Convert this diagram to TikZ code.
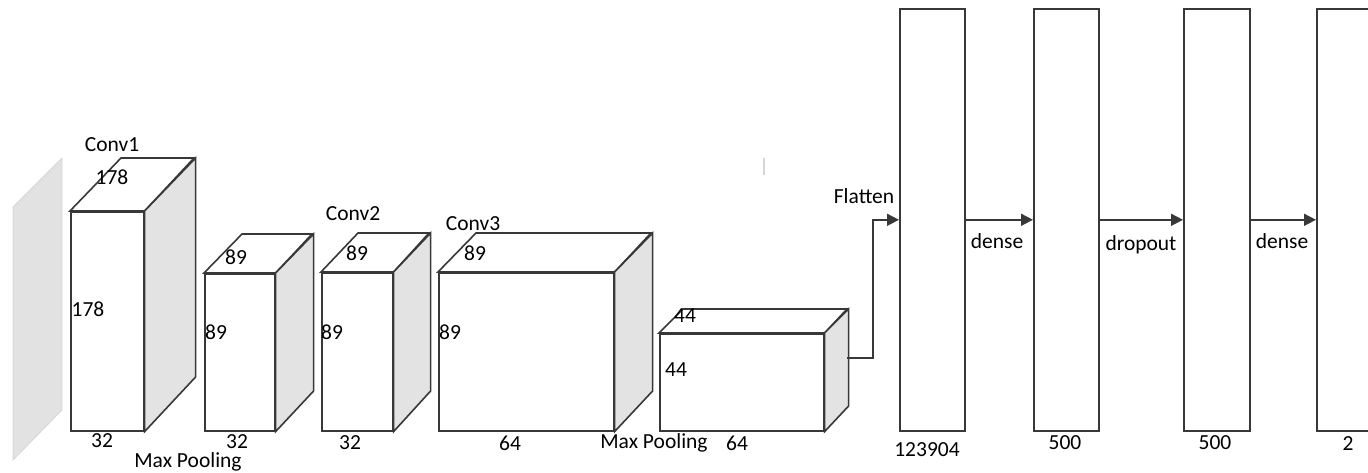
\documentclass[tikz,border=0pt]{standalone}
\usepackage{fontspec}
\setmainfont{Carlito}
\usetikzlibrary{arrows.meta}
\definecolor{ln}{HTML}{383838}
\definecolor{sidef}{HTML}{E3E3E3}
\definecolor{planef}{HTML}{E2E2E2}
\definecolor{planed}{HTML}{D6D6D6}
\newcommand\cubeblock[7]{%
  \node[front, minimum width=#4pt, minimum height=#5pt] (#1) at (#2,#3) {};
  \draw[edge, fill=white] (#1.north west) -- ++(#6,-#7) -- ++(#4,0) -- (#1.north east) -- cycle;
  \draw[edge, fill=sidef] (#1.north east) -- ++(#6,-#7) -- ++(0,#5) -- (#1.south east) -- cycle;
}
\begin{document}
\begin{tikzpicture}[x=1pt,y=-1pt,
  lbl/.style={font=\fontsize{21.5}{25}\selectfont, text=black, inner sep=0pt},
  edge/.style={draw=ln, line width=1.6pt, line join=miter},
  front/.style={edge, fill=white, rectangle, inner sep=0pt, anchor=north west},
  fc/.style={edge, fill=white, rectangle, inner sep=0pt, anchor=north west, minimum height=422pt},
  conn/.style={draw=ln, line width=1.6pt, -{Triangle[length=12pt,width=12pt]}}
]
\useasboundingbox (0,0) rectangle (1368,473);
% input plane
\filldraw[fill=planef, draw=planed, line width=0.8pt] (13,207) -- (62,158) -- (62,410) -- (13,460) -- cycle;
% stray mark
\draw[draw=planed, line width=1.5pt] (764,158) -- (764,175);
% conv / pooling blocks
\cubeblock{c1}{70}{211}{73}{219}{51}{53}
\cubeblock{p1}{204}{273}{70}{157}{38}{39}
\cubeblock{c2}{321}{272}{71}{158}{37}{39}
\cubeblock{c3}{438}{272}{175}{158}{38}{39}
\cubeblock{p2}{659}{333}{164}{97}{24}{24}
% fully connected layers
\node[fc, minimum width=65pt] (d1) at (899,8) {};
\node[fc, minimum width=65pt] (d2) at (1033,8) {};
\node[fc, minimum width=66pt] (d3) at (1183,8) {};
\node[fc, minimum width=65pt] (d4) at (1316,8) {};
% connectors
\coordinate (fs) at (847,358);
\draw[conn] (fs) -- ++(26,0) |- (d1.west);
\draw[conn] (d1.east) -- (d2.west);
\draw[conn] (d2.east) -- (d3.west);
\draw[conn] (d3.east) -- (d4.west);
% labels
\node[lbl] (l1) at (112,145) {Conv1};
\node[lbl] (l2) at (112,177) {178};
\node[lbl] (l3) at (88,309) {178};
\node[lbl] (l4) at (102,441) {32};
\node[lbl] (l5) at (236,257) {89};
\node[lbl] (l6) at (216,332) {89};
\node[lbl] (l7) at (237,442) {32};
\node[lbl] (l8) at (188,462) {Max Pooling};
\node[lbl] (l9) at (353,214) {Conv2};
\node[lbl] (l10) at (357,253) {89};
\node[lbl] (l11) at (332,332) {89};
\node[lbl] (l12) at (350,443) {32};
\node[lbl] (l13) at (473,224) {Conv3};
\node[lbl] (l14) at (475,253) {89};
\node[lbl] (l15) at (450,332) {89};
\node[lbl] (l16) at (510,443) {64};
\node[lbl] (l17) at (685,316) {44};
\node[lbl] (l18) at (676,370) {44};
\node[lbl] (l19) at (654,443) {Max Pooling};
\node[lbl] (l20) at (737,443) {64};
\node[lbl] (l21) at (864,196) {Flatten};
\node[lbl] (l22) at (997,241) {dense};
\node[lbl] (l23) at (1141,245) {dropout};
\node[lbl] (l24) at (1282,241) {dense};
\node[lbl] (l25) at (927,450) {123904};
\node[lbl] (l26) at (1065,443) {500};
\node[lbl] (l27) at (1215,443) {500};
\node[lbl] (l28) at (1348,444) {2};
\end{tikzpicture}
\end{document}
